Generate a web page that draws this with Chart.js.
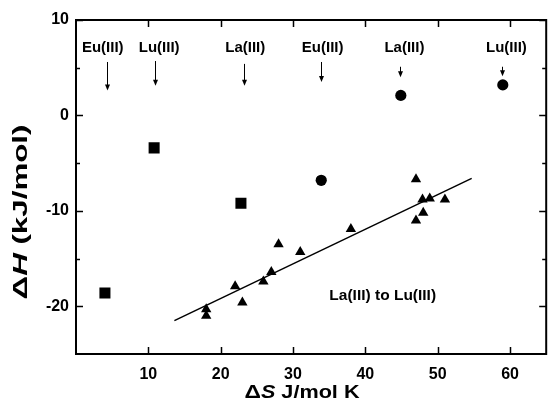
<!DOCTYPE html>
<html>
<head>
<meta charset="utf-8">
<script src="https://cdn.jsdelivr.net/npm/chart.js@4"></script>
<style>
  body { margin: 0; overflow: hidden; background: #fff; }
  canvas { display: block; }
</style>
</head>
<body>
<canvas id="chart" width="554" height="409"></canvas>
<script>
// squares (Eu, Lu, La)
const squareX = [4, 10.8, 22.8];
const squareY = [-18.6, -3.4, -9.2];
// circles (Eu, La, Lu)
const circleX = [33.9, 44.9, 59.0];
const circleY = [-6.8, 2.1, 3.2];
// triangles, La(III) to Lu(III)
const triX = [18, 18, 22, 23, 25.9, 27, 28, 31, 38, 47, 47, 47.9, 48, 48.9, 51];
const triY = [-20.3, -21.0, -17.9, -19.6, -17.4, -16.4, -13.5, -14.3, -11.9, -6.7, -11.0, -8.8, -10.2, -8.7, -8.8];
// linear fit through the triangles
const fitX = [13.6, 54.7];
const fitY = [-21.5, -6.6];

// ion labels with arrows
const ionLabels = ['Eu(III)', 'Lu(III)', 'La(III)', 'Eu(III)', 'La(III)', 'Lu(III)'];
const ionLabelX = [3.7, 11.5, 23.4, 34.1, 45.4, 59.5];
const ionLabelY = 7.1;
const arrowX = [4.3, 10.95, 23.2, 33.9, 44.8, 58.9];
const arrowTopY = [5.6, 5.7, 5.4, 5.6, 5.1, 5.1];
const arrowTipY = [2.6, 3.1, 3.1, 3.5, 4.0, 4.1];

const fitLabel = 'La(III) to Lu(III)';
const fitLabelX = 42.4;
const fitLabelY = -18.9;

const xTicks = [10, 20, 30, 40, 50, 60];
const yTicks = [-20, -10, 0, 10];
const yMinorTicks = [-15, -5, 5];

const FONT = "'Liberation Sans', Arial, sans-serif";

const toPts = (xs, ys) => xs.map((x, i) => ({ x: x, y: ys[i] }));

const overlay = {
    id: 'overlay',
    afterDatasetsDraw(chart) {
        const ctx = chart.ctx;
        const a = chart.chartArea;
        const sx = chart.scales.x, sy = chart.scales.y;
        ctx.save();
        ctx.strokeStyle = '#000';
        ctx.fillStyle = '#000';

        // frame
        ctx.lineWidth = 2;
        ctx.strokeRect(a.left, a.top, a.right - a.left, a.bottom - a.top);

        // inward ticks
        ctx.lineWidth = 1.5;
        ctx.beginPath();
        xTicks.forEach(v => {
            const p = Math.round(sx.getPixelForValue(v)) + 0.5;
            ctx.moveTo(p, a.bottom); ctx.lineTo(p, a.bottom - 7);
            ctx.moveTo(p, a.top); ctx.lineTo(p, a.top + 7);
        });
        yTicks.forEach(v => {
            const p = Math.round(sy.getPixelForValue(v)) + 0.5;
            ctx.moveTo(a.left, p); ctx.lineTo(a.left + 7, p);
            ctx.moveTo(a.right, p); ctx.lineTo(a.right - 7, p);
        });
        yMinorTicks.forEach(v => {
            const p = Math.round(sy.getPixelForValue(v)) + 0.5;
            ctx.moveTo(a.left, p); ctx.lineTo(a.left + 4, p);
            ctx.moveTo(a.right, p); ctx.lineTo(a.right - 4, p);
        });
        ctx.stroke();

        // ion labels + arrows
        ctx.font = 'bold 15px ' + FONT;
        ctx.textAlign = 'center';
        ctx.textBaseline = 'middle';
        ionLabels.forEach((t, i) => {
            ctx.fillText(t, sx.getPixelForValue(ionLabelX[i]), sy.getPixelForValue(ionLabelY));
            const x = Math.round(sx.getPixelForValue(arrowX[i])) + 0.5;
            const y0 = sy.getPixelForValue(arrowTopY[i]);
            const y1 = sy.getPixelForValue(arrowTipY[i]);
            ctx.lineWidth = 1;
            ctx.beginPath();
            ctx.moveTo(x, y0); ctx.lineTo(x, y1 - 5);
            ctx.stroke();
            ctx.beginPath();
            ctx.moveTo(x - 2.5, y1 - 6);
            ctx.lineTo(x + 2.5, y1 - 6);
            ctx.lineTo(x, y1);
            ctx.closePath();
            ctx.fill();
        });

        // fit label
        ctx.font = 'bold 15.5px ' + FONT;
        ctx.fillText(fitLabel, sx.getPixelForValue(fitLabelX), sy.getPixelForValue(fitLabelY));

        // axis titles (stretched along the reading direction like the original)
        drawTitle(ctx, 302, 393, 0, 115, [['Δ', 'bold 19px '], ['S', 'italic bold 18px '], [' J/mol K', 'bold 18px ']]);
        drawTitle(ctx, 21, 212, -Math.PI / 2, 175, [['Δ', 'bold 21px '], ['H', 'italic bold 20px '], [' (kJ/mol)', 'bold 20px ']]);
        ctx.restore();
    }
};

function drawTitle(ctx, cx, cy, rot, len, parts) {
    let w = 0;
    parts.forEach(p => { ctx.font = p[1] + FONT; w += ctx.measureText(p[0]).width; });
    ctx.save();
    ctx.translate(cx, cy);
    ctx.rotate(rot);
    ctx.scale(len / w, 1);
    ctx.textAlign = 'left';
    ctx.textBaseline = 'middle';
    let x = -w / 2;
    parts.forEach(p => {
        ctx.font = p[1] + FONT;
        ctx.fillText(p[0], x, 0);
        x += ctx.measureText(p[0]).width;
    });
    ctx.restore();
}

new Chart(document.getElementById('chart'), {
    type: 'scatter',
    data: {
        datasets: [
            {
                data: toPts(squareX, squareY),
                pointStyle: 'rect',
                pointRadius: 7.8,
                backgroundColor: '#000',
                borderWidth: 0
            },
            {
                data: toPts(circleX, circleY),
                pointStyle: 'circle',
                pointRadius: 5.6,
                backgroundColor: '#000',
                borderWidth: 0
            },
            {
                data: toPts(triX, triY),
                pointStyle: 'triangle',
                pointRadius: 6,
                backgroundColor: '#000',
                borderWidth: 0
            },
            {
                type: 'line',
                data: toPts(fitX, fitY),
                borderColor: '#000',
                borderWidth: 1.5,
                pointRadius: 0,
                fill: false
            }
        ]
    },
    options: {
        responsive: false,
        animation: false,
        layout: { padding: { left: 0, right: 2, top: 20, bottom: 0 } },
        plugins: {
            legend: { display: false },
            tooltip: { enabled: false }
        },
        scales: {
            x: {
                type: 'linear',
                min: 0,
                max: 65,
                grid: { display: false, drawTicks: false },
                border: { display: false },
                afterBuildTicks: s => { s.ticks = xTicks.map(v => ({ value: v })); },
                afterFit: s => { s.height = 55; },
                ticks: {
                    color: '#000',
                    padding: 11,
                    font: { family: FONT, size: 16, weight: 'bold' }
                }
            },
            y: {
                type: 'linear',
                min: -25,
                max: 10,
                grid: { display: false, drawTicks: false },
                border: { display: false },
                afterBuildTicks: s => { s.ticks = yTicks.map(v => ({ value: v })); },
                afterFit: s => { s.width = 76; },
                ticks: {
                    color: '#000',
                    padding: 7,
                    font: { family: FONT, size: 16, weight: 'bold' }
                }
            }
        }
    },
    plugins: [overlay]
});
</script>
</body>
</html>
